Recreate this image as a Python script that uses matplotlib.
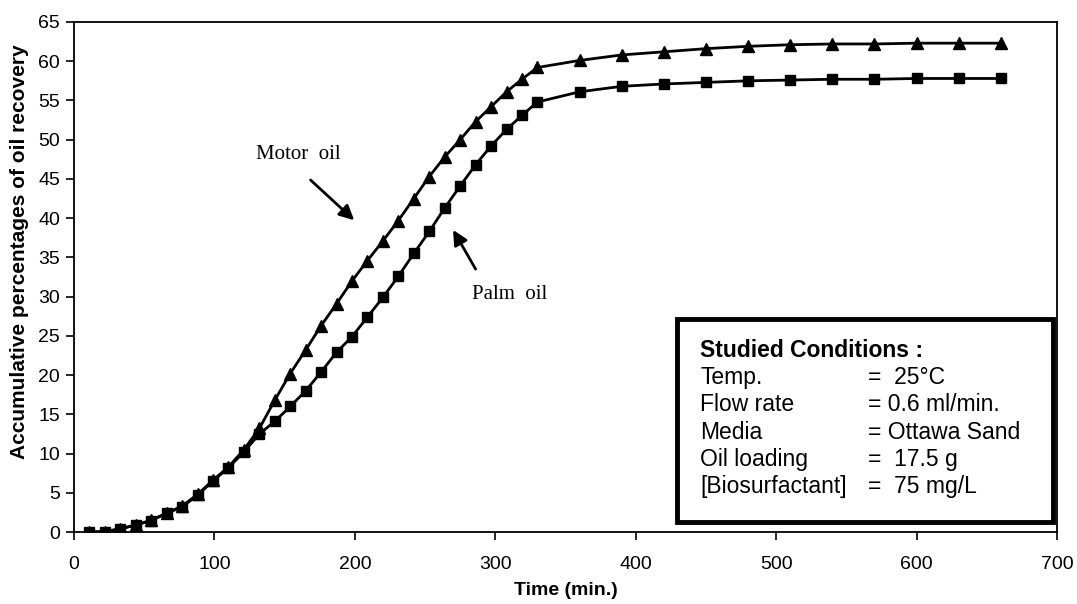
import matplotlib
matplotlib.use('Agg')
import matplotlib.pyplot as plt
from matplotlib.patches import Rectangle

plt.rcParams['font.family'] = ['Liberation Sans', 'DejaVu Sans']

# time (min.) of each reading
time_min = [11, 22, 33, 44, 55, 66, 77, 88, 99, 110,
            121, 132, 143, 154, 165, 176, 187, 198, 209, 220,
            231, 242, 253, 264, 275, 286, 297, 308, 319, 330,
            360, 390, 420, 450, 480, 510, 540, 570, 600, 630, 660]

motor_oil = [0.0, 0.05, 0.4, 0.9, 1.5, 2.4, 3.3, 4.8, 6.6, 8.3,
             10.5, 13.2, 16.8, 20.2, 23.2, 26.3, 29.1, 32.0, 34.6, 37.1,
             39.7, 42.5, 45.3, 47.8, 50.0, 52.3, 54.2, 56.1, 57.7, 59.2,
             60.1, 60.8, 61.2, 61.6, 61.9, 62.1, 62.2, 62.2, 62.3, 62.3, 62.3]

palm_oil = [0.0, 0.05, 0.4, 0.9, 1.45, 2.4, 3.2, 4.7, 6.5, 8.2,
            10.2, 12.5, 14.1, 16.0, 18.0, 20.4, 22.9, 24.9, 27.4, 29.9,
            32.6, 35.5, 38.3, 41.3, 44.1, 46.8, 49.2, 51.3, 53.1, 54.8,
            56.1, 56.8, 57.1, 57.3, 57.5, 57.6, 57.7, 57.7, 57.8, 57.8, 57.8]

cond_labels = ["Temp.", "Flow rate", "Media", "Oil loading", "[Biosurfactant]"]
cond_values = ["=  25°C", "= 0.6 ml/min.", "= Ottawa Sand", "=  17.5 g", "=  75 mg/L"]

fig = plt.figure(figsize=(10.77, 6.04), dpi=100)
ax = fig.add_axes([0.0687, 0.1192, 0.9127, 0.8444])

ax.plot(time_min, motor_oil, color='black', lw=2, marker='^', ms=8)
ax.plot(time_min, palm_oil, color='black', lw=2, marker='s', ms=7)

ax.set_xlim(0, 700)
ax.set_ylim(0, 65)
ax.set_xticks(range(0, 701, 100))
ax.set_yticks(range(0, 66, 5))
ax.tick_params(axis='x', direction='out', length=6, width=1.2, pad=11, labelsize=14)
ax.tick_params(axis='y', direction='out', length=6, width=1.2, pad=4, labelsize=14)
for s in ax.spines.values():
    s.set_linewidth(1.3)

ax.set_xlabel("Time (min.)", fontsize=14, fontweight='bold', labelpad=7)
ax.set_ylabel("Accumulative percentages of oil recovery", fontsize=15,
              fontweight='bold', labelpad=5)
ax.yaxis.set_label_coords(-0.046, 0.55)

# arrows pointing at each curve
ax.annotate("", xy=(201, 39.5), xytext=(167, 45.1),
            arrowprops=dict(arrowstyle='-|>', color='black', lw=2, mutation_scale=22))
ax.text(160, 48.1, "Motor  oil", family=['Liberation Serif'], fontsize=15,
        ha='center', va='center')
ax.annotate("", xy=(269, 38.8), xytext=(287, 33.2),
            arrowprops=dict(arrowstyle='-|>', color='black', lw=2, mutation_scale=22))
ax.text(310, 30.3, "Palm  oil", family=['Liberation Serif'], fontsize=15,
        ha='center', va='center')

# conditions box
ax.add_patch(Rectangle((0.613, 0.02), 0.383, 0.397, transform=ax.transAxes,
                       fill=True, facecolor='white', edgecolor='black', lw=3.5, zorder=5))
ax.text(0.637, 0.356, "Studied Conditions :", transform=ax.transAxes, fontsize=16.5,
        fontweight='bold', va='center', zorder=6)
for i in range(len(cond_labels)):
    yy = 0.303 - i * 0.0535
    ax.text(0.637, yy, cond_labels[i], transform=ax.transAxes, fontsize=16.5,
            va='center', zorder=6)
    ax.text(0.808, yy, cond_values[i], transform=ax.transAxes, fontsize=16.5,
            va='center', zorder=6)

plt.savefig("out.png", dpi=100)
